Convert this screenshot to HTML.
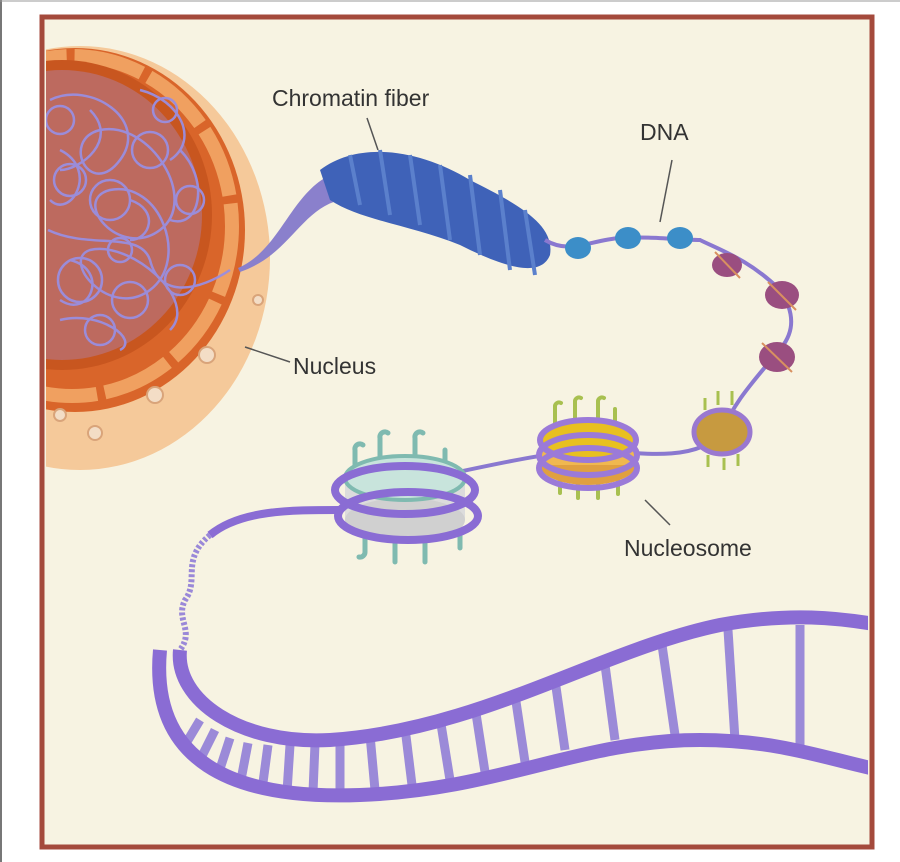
<!DOCTYPE html>
<html><head><meta charset="utf-8"><style>
html,body{margin:0;padding:0;background:#fff;width:900px;height:862px;overflow:hidden}
svg{display:block}
text{font-family:"Liberation Sans",sans-serif;fill:#333}
</style></head><body>
<svg width="900" height="862" viewBox="0 0 900 862">
<defs>
<clipPath id="c"><rect x="46" y="22" width="822" height="822"/></clipPath>
</defs>
<line x1="1" y1="0" x2="1" y2="862" stroke="#777" stroke-width="2"/>
<line x1="0" y1="1" x2="900" y2="1" stroke="#999" stroke-width="1"/>
<rect x="42" y="17" width="830" height="830" fill="#f7f3e2" stroke="#a44a3c" stroke-width="5"/>
<g clip-path="url(#c)">
<!-- nucleus -->
<ellipse cx="80" cy="258" rx="190" ry="212" fill="#f5c99a"/>
<ellipse cx="75" cy="230" rx="170" ry="182" fill="#d9652a"/>
<ellipse cx="72" cy="226" rx="160" ry="170" fill="none" stroke="#f0a060" stroke-width="14" stroke-dasharray="70 8"/>
<ellipse cx="62" cy="215" rx="150" ry="155" fill="#c8561f"/>
<ellipse cx="62" cy="215" rx="140" ry="145" fill="#a890d8" opacity="0.35"/>
<g fill="none" stroke="#9a8ee0" stroke-width="2.5" opacity="0.95">
<path d="M50,100 C90,80 150,120 120,160 C90,200 60,140 100,130 C150,120 200,200 160,230 C120,260 70,200 110,190 C160,180 190,260 150,290 C110,320 60,260 90,250 C130,240 200,300 170,330"/>
<path d="M60,150 C100,170 70,220 50,200 M70,260 C110,270 90,320 60,300 M180,150 C210,180 200,230 170,220 M140,90 C180,100 200,140 170,160 M60,320 C100,310 140,340 120,350"/>
<path d="M48,230 C90,250 140,230 150,260 C160,300 200,290 230,270 M90,110 C120,140 80,170 60,170 M130,200 C160,210 150,240 130,240"/>
<circle cx="110" cy="200" r="20"/><circle cx="150" cy="150" r="18"/><circle cx="80" cy="280" r="22"/><circle cx="180" cy="280" r="15"/><circle cx="70" cy="180" r="16"/><circle cx="130" cy="300" r="18"/>
<circle cx="190" cy="200" r="14"/><circle cx="100" cy="330" r="15"/><circle cx="60" cy="120" r="14"/><circle cx="165" cy="110" r="12"/><circle cx="120" cy="250" r="12"/>
</g>
<g fill="#f3ddc6" stroke="#d9a47a" stroke-width="2">
<circle cx="207" cy="355" r="8"/><circle cx="155" cy="395" r="8"/><circle cx="258" cy="300" r="5"/><circle cx="95" cy="433" r="7"/><circle cx="60" cy="415" r="6"/>
</g>
</g>
<!-- fiber from nucleus -->
<path d="M238,268 C280,250 290,195 330,175 L340,200 C300,210 290,255 240,272 Z" fill="#8a80cc"/>
<!-- chromatin fiber -->
<path d="M320,170 C360,140 420,150 470,180 C520,205 555,225 550,255 C540,280 500,265 460,245 C410,225 360,220 330,200 Z" fill="#3f62b8"/>
<g stroke="#5b80cc" stroke-width="4">
<line x1="350" y1="155" x2="360" y2="205"/><line x1="380" y1="150" x2="390" y2="215"/><line x1="410" y1="155" x2="420" y2="225"/><line x1="440" y1="165" x2="450" y2="240"/><line x1="470" y1="175" x2="480" y2="255"/><line x1="500" y1="190" x2="510" y2="270"/><line x1="525" y1="210" x2="535" y2="275"/>
</g>
<!-- DNA beads path -->
<path d="M545,240 C570,255 590,240 620,238 C650,236 680,240 700,240 C720,250 750,260 780,290 C800,320 790,340 775,355 C755,380 735,400 722,432 C700,460 650,455 600,450 C550,450 470,470 420,480" stroke="#8a78d0" stroke-width="4" fill="none"/>
<g fill="#3c8ec8"><ellipse cx="578" cy="248" rx="13" ry="11"/><ellipse cx="628" cy="238" rx="13" ry="11"/><ellipse cx="680" cy="238" rx="13" ry="11"/></g>
<g fill="#9a4e80"><ellipse cx="727" cy="265" rx="15" ry="12"/><ellipse cx="782" cy="295" rx="17" ry="14"/><ellipse cx="777" cy="357" rx="18" ry="15"/></g>
<g stroke="#d89060" stroke-width="2"><line x1="715" y1="252" x2="740" y2="278"/><line x1="768" y1="282" x2="796" y2="310"/><line x1="762" y1="343" x2="792" y2="372"/></g>
<!-- nucleosome right -->
<ellipse cx="722" cy="432" rx="28" ry="22" fill="#c79a40" stroke="#9a78d0" stroke-width="5"/>
<g stroke="#a8c050" stroke-width="3" fill="none"><path d="M705,410 v-12 M718,405 v-14 M732,405 v-14 M708,455 v12 M724,458 v12 M738,454 v12"/></g>
<!-- nucleosome middle -->
<g stroke="#a8c050" stroke-width="4" fill="none" stroke-linecap="round">
<path d="M555,425 v-18 a4,4 0 0 1 6,-4 M575,420 v-18 a4,4 0 0 1 6,-4 M598,420 v-18 a4,4 0 0 1 6,-4 M615,425 v-16"/>
<path d="M560,475 v18 M578,480 v18 M598,480 v18 M618,478 v16"/>
</g>
<ellipse cx="588" cy="465" rx="48" ry="20" fill="#e0a040"/>
<rect x="540" y="440" width="96" height="25" fill="#f0b850"/>
<ellipse cx="588" cy="440" rx="48" ry="20" fill="#e8c020" stroke="#9b7ad8" stroke-width="6"/>
<ellipse cx="588" cy="455" rx="49" ry="20" fill="none" stroke="#9b7ad8" stroke-width="6"/>
<ellipse cx="588" cy="468" rx="49" ry="20" fill="none" stroke="#9b7ad8" stroke-width="6"/>
<!-- nucleosome left -->
<g stroke="#7fbab0" stroke-width="5" fill="none" stroke-linecap="round">
<path d="M355,470 v-20 a5,5 0 0 1 8,-5 M380,460 v-22 a5,5 0 0 1 8,-5 M415,460 v-22 a5,5 0 0 1 8,-5 M445,470 v-20"/>
<path d="M365,530 v22 a5,5 0 0 1 -6,5 M395,540 v22 M425,540 v22 M460,530 v18"/>
</g>
<rect x="345" y="480" width="120" height="40" fill="#dcdcdc"/>
<ellipse cx="405" cy="520" rx="60" ry="22" fill="#d0d0d0"/>
<ellipse cx="405" cy="478" rx="60" ry="22" fill="#c8e4dc" stroke="#7fbab0" stroke-width="4"/>
<ellipse cx="405" cy="490" rx="70" ry="24" fill="none" stroke="#8a6cd4" stroke-width="8"/>
<ellipse cx="408" cy="516" rx="70" ry="24" fill="none" stroke="#8a6cd4" stroke-width="8"/>
<!-- strand to helix -->
<path d="M340,510 C290,510 240,510 210,535" stroke="#8a6cd4" stroke-width="8" fill="none"/>
<path d="M210,535 C180,560 200,580 185,600 C175,620 195,630 180,650" stroke="#9a88d8" stroke-width="6" fill="none" stroke-dasharray="3 2"/>
<!-- ladder -->
<g clip-path="url(#c)">
<g stroke="#9b8ad8" stroke-width="9">
<line x1="200" y1="720" x2="185" y2="745"/><line x1="215" y1="730" x2="200" y2="760"/><line x1="230" y1="738" x2="218" y2="775"/><line x1="248" y1="743" x2="240" y2="785"/><line x1="268" y1="745" x2="262" y2="790"/><line x1="290" y1="745" x2="287" y2="792"/><line x1="315" y1="744" x2="313" y2="792"/><line x1="340" y1="740" x2="340" y2="790"/>
<line x1="370" y1="735" x2="375" y2="790"/><line x1="405" y1="728" x2="412" y2="785"/><line x1="440" y1="718" x2="450" y2="780"/><line x1="475" y1="707" x2="485" y2="772"/><line x1="515" y1="695" x2="525" y2="762"/><line x1="555" y1="680" x2="565" y2="750"/><line x1="605" y1="665" x2="615" y2="740"/><line x1="662" y1="645" x2="675" y2="735"/><line x1="728" y1="630" x2="735" y2="740"/><line x1="800" y1="625" x2="800" y2="745"/>
</g>
<path d="M180,650 C175,700 240,745 330,740 C480,730 600,650 720,625 C790,612 840,618 880,625" stroke="#8a6cd4" stroke-width="14" fill="none"/>
<path d="M160,650 C150,760 230,800 360,795 C500,790 580,740 700,740 C780,740 830,760 880,770" stroke="#8a6cd4" stroke-width="14" fill="none"/>
</g>
<!-- leader lines -->
<g stroke="#555" stroke-width="1.5">
<line x1="367" y1="118" x2="378" y2="150"/>
<line x1="672" y1="160" x2="660" y2="222"/>
<line x1="245" y1="347" x2="290" y2="362"/>
<line x1="645" y1="500" x2="670" y2="525"/>
</g>
<text x="272" y="106" font-size="23">Chromatin fiber</text>
<text x="640" y="140" font-size="23">DNA</text>
<text x="293" y="374" font-size="23">Nucleus</text>
<text x="624" y="556" font-size="23">Nucleosome</text>
</svg>
</body></html>
